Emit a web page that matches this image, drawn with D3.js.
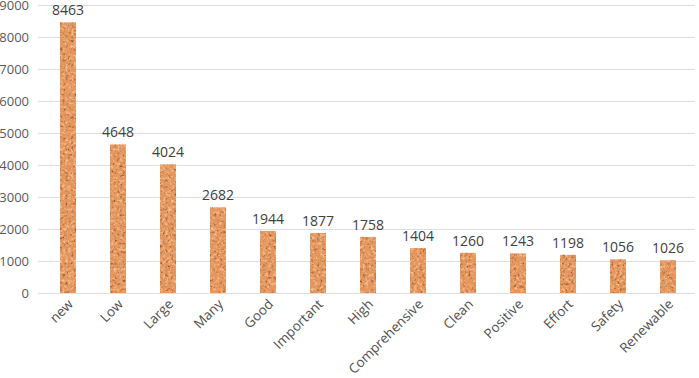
<!DOCTYPE html>
<html>
<head>
<meta charset="utf-8">
<script src="https://cdn.jsdelivr.net/npm/d3@7"></script>
<style>
  body { margin: 0; background: #fff; }
  text { font-family: "Open Sans", sans-serif; }
</style>
</head>
<body>
<div id="chart"></div>
<script>
// data
const words = ["new", "Low", "Large", "Many", "Good", "Important", "High", "Comprehensive", "Clean", "Positive", "Effort", "Safety", "Renewable"];
const counts = [8463, 4648, 4024, 2682, 1944, 1877, 1758, 1404, 1260, 1243, 1198, 1056, 1026];
const yTicks = [0, 1000, 2000, 3000, 4000, 5000, 6000, 7000, 8000, 9000];

const W = 699, H = 378;
const margin = {top: 5, right: 6, bottom: 85, left: 43};

const svg = d3.select("#chart").append("svg")
    .attr("width", W)
    .attr("height", H);

// mottled texture for the bars (light and dark blotches over orange)
const defs = svg.append("defs");
const f = defs.append("filter").attr("id", "speckle")
    .attr("x", 0).attr("y", 0).attr("width", 1).attr("height", 1);
f.append("feTurbulence")
    .attr("type", "fractalNoise")
    .attr("baseFrequency", 0.35)
    .attr("numOctaves", 3)
    .attr("seed", 4)
    .attr("result", "noise");
// dark spots from red channel
f.append("feColorMatrix")
    .attr("in", "noise")
    .attr("type", "matrix")
    .attr("values", "0 0 0 0 0  0 0 0 0 0  0 0 0 0 0  3.2 0 0 0 -1.75")
    .attr("result", "darkAlpha");
// light spots from green channel
f.append("feColorMatrix")
    .attr("in", "noise")
    .attr("type", "matrix")
    .attr("values", "0 0 0 0 0  0 0 0 0 0  0 0 0 0 0  0 -2.6 0 0 1.35")
    .attr("result", "lightAlpha");
f.append("feFlood").attr("flood-color", "#9a4f24").attr("result", "brown");
f.append("feComposite").attr("in", "brown").attr("in2", "darkAlpha").attr("operator", "in").attr("result", "spots");
f.append("feFlood").attr("flood-color", "#f6c79c").attr("result", "pale");
f.append("feComposite").attr("in", "pale").attr("in2", "lightAlpha").attr("operator", "in").attr("result", "lights");
f.append("feMerge").call(m => {
    m.append("feMergeNode").attr("in", "SourceGraphic");
    m.append("feMergeNode").attr("in", "lights");
    m.append("feMergeNode").attr("in", "spots");
});
f.append("feComposite").attr("in2", "SourceGraphic").attr("operator", "in");

const g = svg.append("g");

const x = d3.scaleBand()
    .domain(words)
    .range([margin.left, W - margin.right])
    .paddingInner(0.68)
    .paddingOuter(0.34);

const y = d3.scaleLinear()
    .domain([0, 9000])
    .range([H - margin.bottom, margin.top]);

// gridlines
g.selectAll("line.grid")
    .data(yTicks)
    .enter()
    .append("line")
    .attr("class", "grid")
    .attr("x1", 38)
    .attr("x2", W - 4)
    .attr("y1", d => y(d) + 0.5)
    .attr("y2", d => y(d) + 0.5)
    .attr("stroke", "#dedede")
    .attr("stroke-width", 1);

// y axis labels
g.selectAll("text.ytick")
    .data(yTicks)
    .enter()
    .append("text")
    .attr("class", "ytick")
    .attr("x", 29)
    .attr("y", d => y(d))
    .attr("dy", "0.35em")
    .attr("text-anchor", "end")
    .attr("font-size", 13)
    .attr("fill", "#595959")
    .text(d => d);

// bars
g.selectAll("rect.bar")
    .data(words)
    .enter()
    .append("rect")
    .attr("class", "bar")
    .attr("x", d => x(d))
    .attr("y", (d, i) => y(counts[i]))
    .attr("width", x.bandwidth())
    .attr("height", (d, i) => y(0) - y(counts[i]))
    .attr("fill", "#e5965c")
    .attr("filter", "url(#speckle)");

// value labels
g.selectAll("text.val")
    .data(words)
    .enter()
    .append("text")
    .attr("class", "val")
    .attr("x", d => x(d) + x.bandwidth() / 2)
    .attr("y", (d, i) => y(counts[i]) - 7)
    .attr("text-anchor", "middle")
    .attr("font-size", 14)
    .attr("fill", "#404040")
    .text((d, i) => counts[i]);

// category labels, rotated
g.selectAll("text.cat")
    .data(words)
    .enter()
    .append("text")
    .attr("class", "cat")
    .attr("transform", d => "translate(" + (x(d) + x.bandwidth() / 2 + 6) + "," + (y(0) + 12) + ") rotate(-45)")
    .attr("text-anchor", "end")
    .attr("font-size", 13.5)
    .attr("fill", "#505050")
    .text(d => d);
</script>
</body>
</html>
